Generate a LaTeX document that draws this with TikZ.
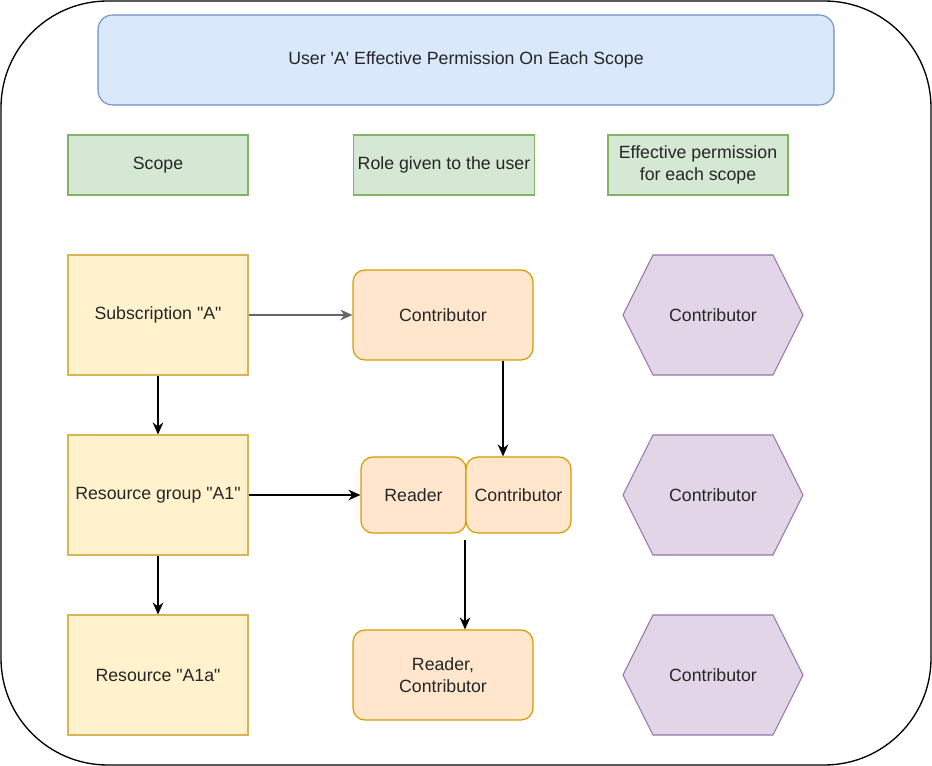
\documentclass[tikz,border=0pt]{standalone}
\usepackage{fontspec}
\setmainfont{Liberation Sans}[Ligatures=TeXOff]
\usetikzlibrary{arrows.meta}
\definecolor{titlefill}{HTML}{DAE8FC}\definecolor{titleline}{HTML}{6C8EBF}
\definecolor{headfill}{HTML}{D5E8D4}\definecolor{headline}{HTML}{82B366}
\definecolor{scopefill}{HTML}{FFF2CC}\definecolor{scopeline}{HTML}{D6B656}
\definecolor{rolefill}{HTML}{FFE6CC}\definecolor{roleline}{HTML}{D79B00}
\definecolor{effill}{HTML}{E1D5E7}\definecolor{efline}{HTML}{9673A6}
\tikzset{
  every node/.style={font=\fontsize{13.3}{17}\selectfont, text=black!85, align=center},
  headbox/.style={draw=headline, fill=headfill, line width=0.8pt, minimum width=135pt, minimum height=45pt},
  scopebox/.style={draw=scopeline, fill=scopefill, line width=0.8pt, minimum width=135pt, minimum height=90pt},
  rolebox/.style={draw=roleline, fill=rolefill, rounded corners=9pt, line width=0.9pt},
  hexbox/.style={draw=efline, fill=effill, line width=0.8pt},
  link/.style={-{Stealth[length=9pt,width=8pt]}, line width=0.9pt}
}
\begin{document}
\begin{tikzpicture}[x=0.75pt,y=-0.75pt]
\useasboundingbox (0,0) rectangle (932,766);
% outer frame
\draw[line width=1pt, rounded corners=80pt] (1,1) rectangle (931,765);
% title
\node[draw=titleline, fill=titlefill, line width=0.8pt, rounded corners=11pt, minimum width=552pt, minimum height=67.5pt]
  (title) at (466,60) {User 'A' Effective Permission On Each Scope};
% column headings
\node[headbox] (scope) at (158,165) {Scope};
\node[headbox] (role) at (444,165) {Role given to the user};
\node[headbox] (eff) at (698,165) {Effective permission\\for each scope};
% scopes
\node[scopebox] (sub) at (158,315) {Subscription "A"};
\node[scopebox] (rg) at (158,495) {Resource group "A1"};
\node[scopebox] (res) at (158,675) {Resource "A1a"};
% roles
\node[rolebox, minimum width=135pt, minimum height=67.5pt] (contrib) at (443,315) {Contributor};
\node[rolebox, minimum width=78.75pt, minimum height=57pt] (reader) at (413.5,495) {Reader};
\node[rolebox, minimum width=78.75pt, minimum height=57pt] (inherit) at (518.5,495) {Contributor};
\node[rolebox, minimum width=135pt, minimum height=67.5pt] (both) at (443,675) {Reader,\\Contributor};
% effective permissions
\foreach \y/\n in {315/ef1, 495/ef2, 675/ef3} {
  \filldraw[hexbox] (623,\y) -- (653,\y-60) -- (773,\y-60) -- (803,\y) -- (773,\y+60) -- (653,\y+60) -- cycle;
  \node (\n) at (713,\y) {Contributor};
}
% links
\coordinate (split) at (465,540);
\draw[link, black!60] (sub) -- (contrib);
\draw[link] (sub) -- (rg);
\draw[link] (rg) -- (res);
\draw[link] (rg.east) -- (reader.west);
\draw[link] (contrib.south -| 503,0) -- (inherit.north -| 503,0);
\draw[link] (split) -- (both.north -| split);
\end{tikzpicture}
\end{document}
